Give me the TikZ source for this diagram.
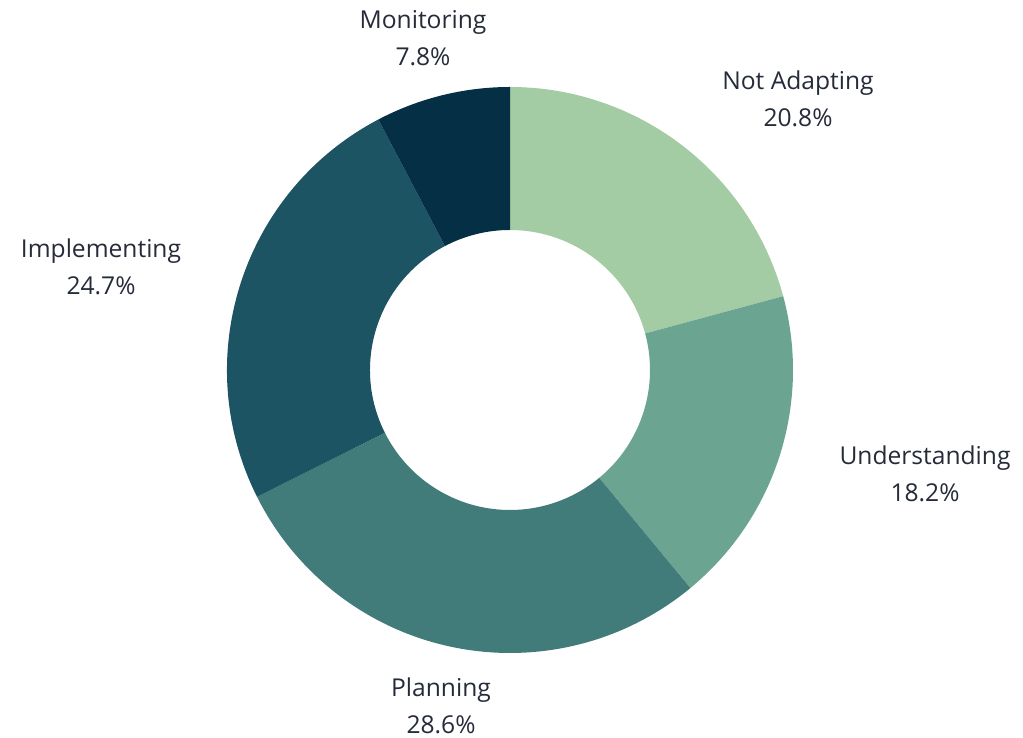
\documentclass[tikz,border=0pt]{standalone}
\usepackage{fontspec}
\setmainfont{Open Sans}
\usepackage{tikz}

\definecolor{notadapt}{HTML}{A3CBA4}
\definecolor{understand}{HTML}{6BA592}
\definecolor{planning}{HTML}{417C7B}
\definecolor{implement}{HTML}{1D5463}
\definecolor{monitor}{HTML}{042F44}
\definecolor{labeltext}{HTML}{262B3A}

\begin{document}
\begin{tikzpicture}[x=0.5pt, y=0.5pt,
    lbl/.style={align=center, text=labeltext, font=\fontsize{12.3}{18.5}\selectfont}]
    \useasboundingbox (0, 0) rectangle (1023, 738);
    \coordinate (O) at (510, 368);

    % 扇形を描く
    \fill[notadapt] ([shift={(90:141.5pt)}]O) arc[start angle=90, end angle=15.12, radius=141.5pt]
        -- ([shift={(15.12:70pt)}]O) arc[start angle=15.12, end angle=90, radius=70pt] -- cycle;
    \fill[understand] ([shift={(15.12:141.5pt)}]O) arc[start angle=15.12, end angle=-50.4, radius=141.5pt]
        -- ([shift={(-50.4:70pt)}]O) arc[start angle=-50.4, end angle=15.12, radius=70pt] -- cycle;
    \fill[planning] ([shift={(-50.4:141.5pt)}]O) arc[start angle=-50.4, end angle=-153.36, radius=141.5pt]
        -- ([shift={(-153.36:70pt)}]O) arc[start angle=-153.36, end angle=-50.4, radius=70pt] -- cycle;
    \fill[implement] ([shift={(-153.36:141.5pt)}]O) arc[start angle=-153.36, end angle=-242.28, radius=141.5pt]
        -- ([shift={(-242.28:70pt)}]O) arc[start angle=-242.28, end angle=-153.36, radius=70pt] -- cycle;
    \fill[monitor] ([shift={(117.72:141.5pt)}]O) arc[start angle=117.72, end angle=90, radius=141.5pt]
        -- ([shift={(90:70pt)}]O) arc[start angle=90, end angle=117.72, radius=70pt] -- cycle;

    % ラベル
    \node[lbl] (Mon) at (423, 700) {Monitoring\\7.8\%};
    \node[lbl] (NotA) at (798, 639) {Not Adapting\\20.8\%};
    \node[lbl] (Impl) at (101, 471) {Implementing\\24.7\%};
    \node[lbl] (Und) at (925, 264) {Understanding\\18.2\%};
    \node[lbl] (Plan) at (441, 32) {Planning\\28.6\%};
\end{tikzpicture}
\end{document}
